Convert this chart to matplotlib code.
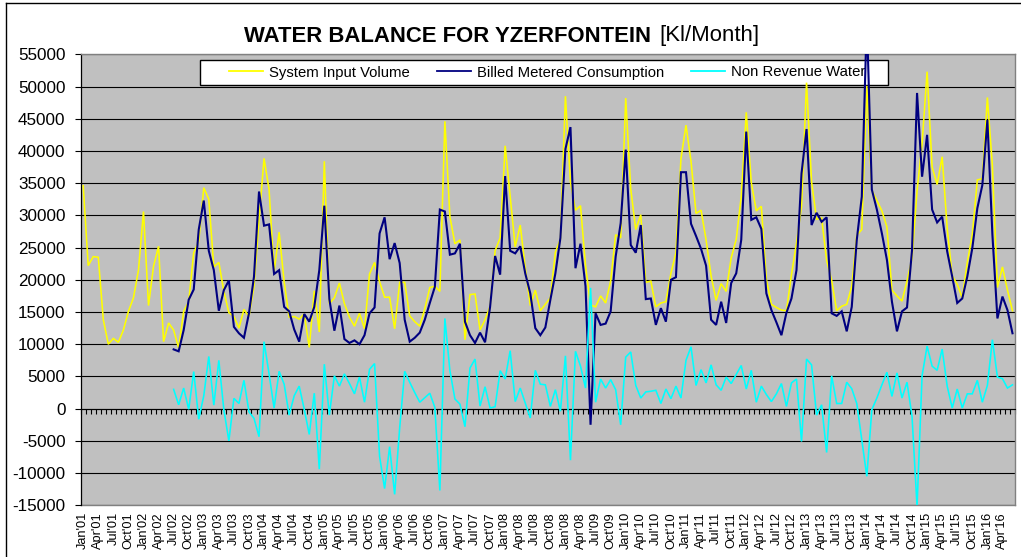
import numpy as np
import matplotlib
matplotlib.use("Agg")
import matplotlib.pyplot as plt
from matplotlib.lines import Line2D
from matplotlib.patches import Rectangle

plt.rcParams['font.family'] = ['Liberation Sans', 'DejaVu Sans']

nan = np.nan

system_input_volume = [
    34600, 22200, 23600, 23500, 13800, 10000, 10900, 10300, 12200, 15100,
    17200, 21500, 30600, 16000, 22100, 25200, 10400, 13300, 12200, 9400,
    15100, 16600, 24200, 26000, 34300, 32500, 22000, 22700, 18200, 14900,
    14300, 12500, 15400, 14300, 19000, 29300, 38850, 34000, 21200, 27400,
    19700, 14200, 14300, 13900, 14700, 9500, 18300, 11900, 38400, 16300,
    17200, 19500, 16300, 14200, 12800, 14800, 12400, 20900, 22700, 19700,
    17300, 17300, 12400, 19600, 19600, 14400, 13500, 12800, 15500, 18800,
    19000, 18200, 44600, 29800, 25600, 26200, 10700, 17700, 17800, 12200,
    13800, 15900, 24500, 26500, 40800, 33000, 25100, 28500, 21900, 16000,
    18400, 15200, 16200, 17200, 24300, 26300, 48500, 35200, 30800, 31500,
    22200, 16100, 15800, 17500, 16400, 19800, 27000, 26500, 48200, 34100,
    27800, 30100, 19600, 19800, 15800, 16400, 16600, 21000, 24200, 38800,
    44000, 38400, 30300, 30800, 26200, 20600, 16800, 19400, 18200, 23400,
    26300, 32900, 46000, 35100, 30700, 31400, 20100, 16200, 15700, 15300,
    15200, 20800, 25700, 31400, 50600, 35200, 29400, 29600, 23000, 19900,
    15200, 15900, 16200, 19000, 26900, 27800, 50100, 33900, 32300, 30700,
    28200, 18400, 17500, 16700, 19800, 23400, 33800, 41100, 52300, 37500,
    34800, 39100, 28000, 20600, 19300, 17200, 22700, 27000, 35500, 35700,
    48300, 37700, 18800, 22000, 18400, 15200,
]

billed_metered = [nan] * 18 + [
    9200, 8900, 12200, 16900, 18500, 27800, 32300, 24500, 21500, 15200,
    18400, 19900, 12700, 11700, 11000, 14800, 20500, 33700, 28400, 28600,
    20900, 21500, 15800, 15100, 12300, 10400, 14700, 13500, 15800, 21500,
    31500, 17000, 12100, 16000, 10800, 10200, 10600, 10000, 11400, 14800,
    15700, 27200, 29700, 23200, 25700, 22600, 13800, 10400, 11000, 11800,
    13800, 16400, 18900, 30900, 30600, 23900, 24100, 25600, 13500, 11400,
    10200, 11800, 10300, 15800, 23700, 20800, 36100, 24500, 24100, 25200,
    21000, 17900, 12500, 11400, 12600, 16900, 21000, 26500, 40300, 43700,
    21800, 25600, 19000, -2500, 14800, 13000, 13200, 15100, 23600, 28800,
    40200, 25400, 24200, 28500, 17000, 17100, 13000, 15600, 13500, 20000,
    20400, 36700, 36700, 28700, 26800, 24800, 22200, 13800, 13000, 16600,
    13300, 19500, 21000, 26200, 43000, 29300, 29700, 27900, 17900, 15300,
    13400, 11400, 14900, 17100, 21500, 36500, 43400, 28500, 30400, 29000,
    29700, 14800, 14400, 15100, 12000, 15800, 26200, 32900, 60600, 34000,
    30900, 27200, 23100, 16600, 12000, 15100, 15700, 24600, 49000, 36000,
    42500, 30900, 28900, 29800, 24400, 20500, 16400, 17100, 20500, 24900,
    31100, 34700, 44800, 27000, 14000, 17400, 15300, 11700,
]

non_revenue_water = [nan] * 18 + [
    3000, 600, 3200, -100, 5750, -1650, 2000, 8100, 550, 7500,
    -200, -5000, 1600, 800, 4400, -500, -1500, -4350, 10400, 5400,
    100, 5800, 3800, -1000, 2000, 3500, -100, -4000, 2400, -9400,
    6900, -1000, 5100, 3500, 5400, 3900, 2300, 4900, 1000, 6100,
    7000, -7400, -12400, -5900, -13300, -3000, 5800, 4100, 2500, 1000,
    1700, 2400, 200, -12700, 14000, 5900, 1500, 700, -2800, 6300,
    7700, 400, 3400, 100, 300, 5900, 4600, 9000, 1100, 3200,
    900, -1450, 5950, 3800, 3700, 350, 2950, -400, 8200, -8000,
    8900, 6600, 3200, 18750, 1000, 4600, 3200, 4500, 2950, -2500,
    8000, 8800, 3600, 1650, 2600, 2700, 2850, 800, 3050, 1550,
    3500, 1650, 7500, 9600, 3600, 6050, 4000, 6800, 3700, 2850,
    4900, 3900, 5300, 6700, 3050, 5950, 1000, 3500, 2200, 1100,
    2300, 3900, 350, 4000, 4600, -5100, 7700, 6800, -1000, 600,
    -6800, 5100, 800, 800, 4100, 3100, 800, -4900, -10500, -150,
    1650, 3700, 5650, 1900, 5550, 1650, 4100, -1200, -15200, 5100,
    9700, 6600, 5950, 9250, 3500, 100, 3050, 100, 2300, 2300,
    4400, 1000, 3600, 10700, 4900, 4650, 3200, 3700,
]

tick_labels = [
    "Jan'01", "Apr'01", "Jul'01", "Oct'01", "Jan'02", "Apr'02", "Jul'02", "Oct'02",
    "Jan'03", "Apr'03", "Jul'03", "Oct'03", "Jan'04", "Apr'04", "Jul'04", "Oct'04",
    "Jan'05", "Apr'05", "Jul'05", "Oct'05", "Jan'06", "Apr'06", "Jul'06", "Oct'06",
    "Jan'07", "Apr'07", "Jul'07", "Oct'07", "Jan'08", "Apr'08", "Jul'08", "Oct'08",
    "Jan'08", "Apr'08", "Jul'09", "Oct'09", "Jan'10", "Apr'10", "Jul'10", "Oct'10",
    "Jan'11", "Apr'11", "Jul'11", "Oct'11", "Jan'12", "Apr'12", "Jul'12", "Oct'12",
    "Jan'13", "Apr'13", "Jul'13", "Oct'13", "Jan'14", "Apr'14", "Jul'14", "Oct'14",
    "Jan'15", "Apr'15", "Jul'15", "Oct'15", "Jan'16", "Apr'16",
]

series_names = ["System Input Volume", "Billed Metered Consumption", "Non Revenue Water"]
series_colors = ["#FFFF00", "#000080", "#00FFFF"]

W, H = 1021, 557
fig = plt.figure(figsize=(W / 100, H / 100), dpi=100)

def fx(px):
    return px / W

def fy(py):
    return 1 - py / H

left, right, top, bottom = 80.7, 1015.0, 54.3, 505.3
ax = fig.add_axes([fx(left), fy(bottom), fx(right - left), (bottom - top) / H])
ax.set_facecolor("#C0C0C0")

n = len(system_input_volume)
x = np.arange(n)
data = [system_input_volume, billed_metered, non_revenue_water]
widths = [1.15, 1.5, 1.15]
for vals, col, lw, z in zip(data, series_colors, widths, [3, 4, 5]):
    ax.plot(x, np.array(vals, dtype=float), color=col, lw=lw, zorder=z, solid_joinstyle="miter")

ax.set_xlim(-0.5, n - 0.5)
ax.set_ylim(-15000, 55000)
ax.set_yticks(np.arange(-15000, 55001, 5000))
ax.set_yticklabels([str(v) for v in range(-15000, 55001, 5000)], fontsize=12.3)
ax.yaxis.grid(True, color="black", lw=0.8)
ax.set_axisbelow(True)
ax.tick_params(axis="y", direction="out", length=4, width=0.8, pad=7, colors="black")

# category axis crossing at zero
ax.spines["bottom"].set_position(("data", 0))
ax.spines["bottom"].set_color("black")
ax.spines["bottom"].set_linewidth(0.8)
ax.set_xticks(np.arange(-0.5, n, 1))
ax.tick_params(axis="x", direction="out", length=3.5, width=0.8, labelbottom=False)
ax.spines["left"].set_color("black")
ax.spines["left"].set_linewidth(0.9)
for s in ["top", "right"]:
    ax.spines[s].set_color("#808080")
    ax.spines[s].set_linewidth(1.0)

sec = ax.secondary_xaxis("bottom")
sec.set_xticks(np.arange(0, n, 3)[:len(tick_labels)])
sec.set_xticklabels(tick_labels, rotation=90, fontsize=9.2)
sec.tick_params(length=0, pad=5)
sec.spines["bottom"].set_color("#808080")
sec.spines["bottom"].set_linewidth(1.0)

# title
fig.text(fx(244), fy(36), "WATER BALANCE FOR YZERFONTEIN", fontsize=15.9,
         fontweight="bold", ha="left", va="center")
fig.text(fx(659), fy(36), "[Kl/Month]", fontsize=15.9, ha="left", va="center")

# legend box (inside the axes, below the series lines)
ax.add_patch(Rectangle((fx(200), fy(85)), fx(888 - 200), 25 / H,
                       transform=fig.transFigure, facecolor="white",
                       edgecolor="black", lw=1.0, zorder=2.5, clip_on=False))
handles = [Line2D([], [], color=c, lw=1.3) for c in series_colors]
leg = ax.legend(handles, series_names, loc="center",
                bbox_to_anchor=(fx(547), fy(72.5)),
                bbox_transform=fig.transFigure,
                ncol=3, fontsize=10.7, frameon=False,
                borderpad=0.0, handlelength=2.3, handletextpad=0.4,
                columnspacing=1.8, borderaxespad=0)
leg.set_zorder(2.6)

# outer chart border (left and top)
fig.add_artist(Line2D([fx(6), fx(6)], [fy(3), 0], color="black", lw=1.0))
fig.add_artist(Line2D([fx(6), 1], [fy(3), fy(3)], color="black", lw=1.0))

fig.savefig("out.png", dpi=100)
